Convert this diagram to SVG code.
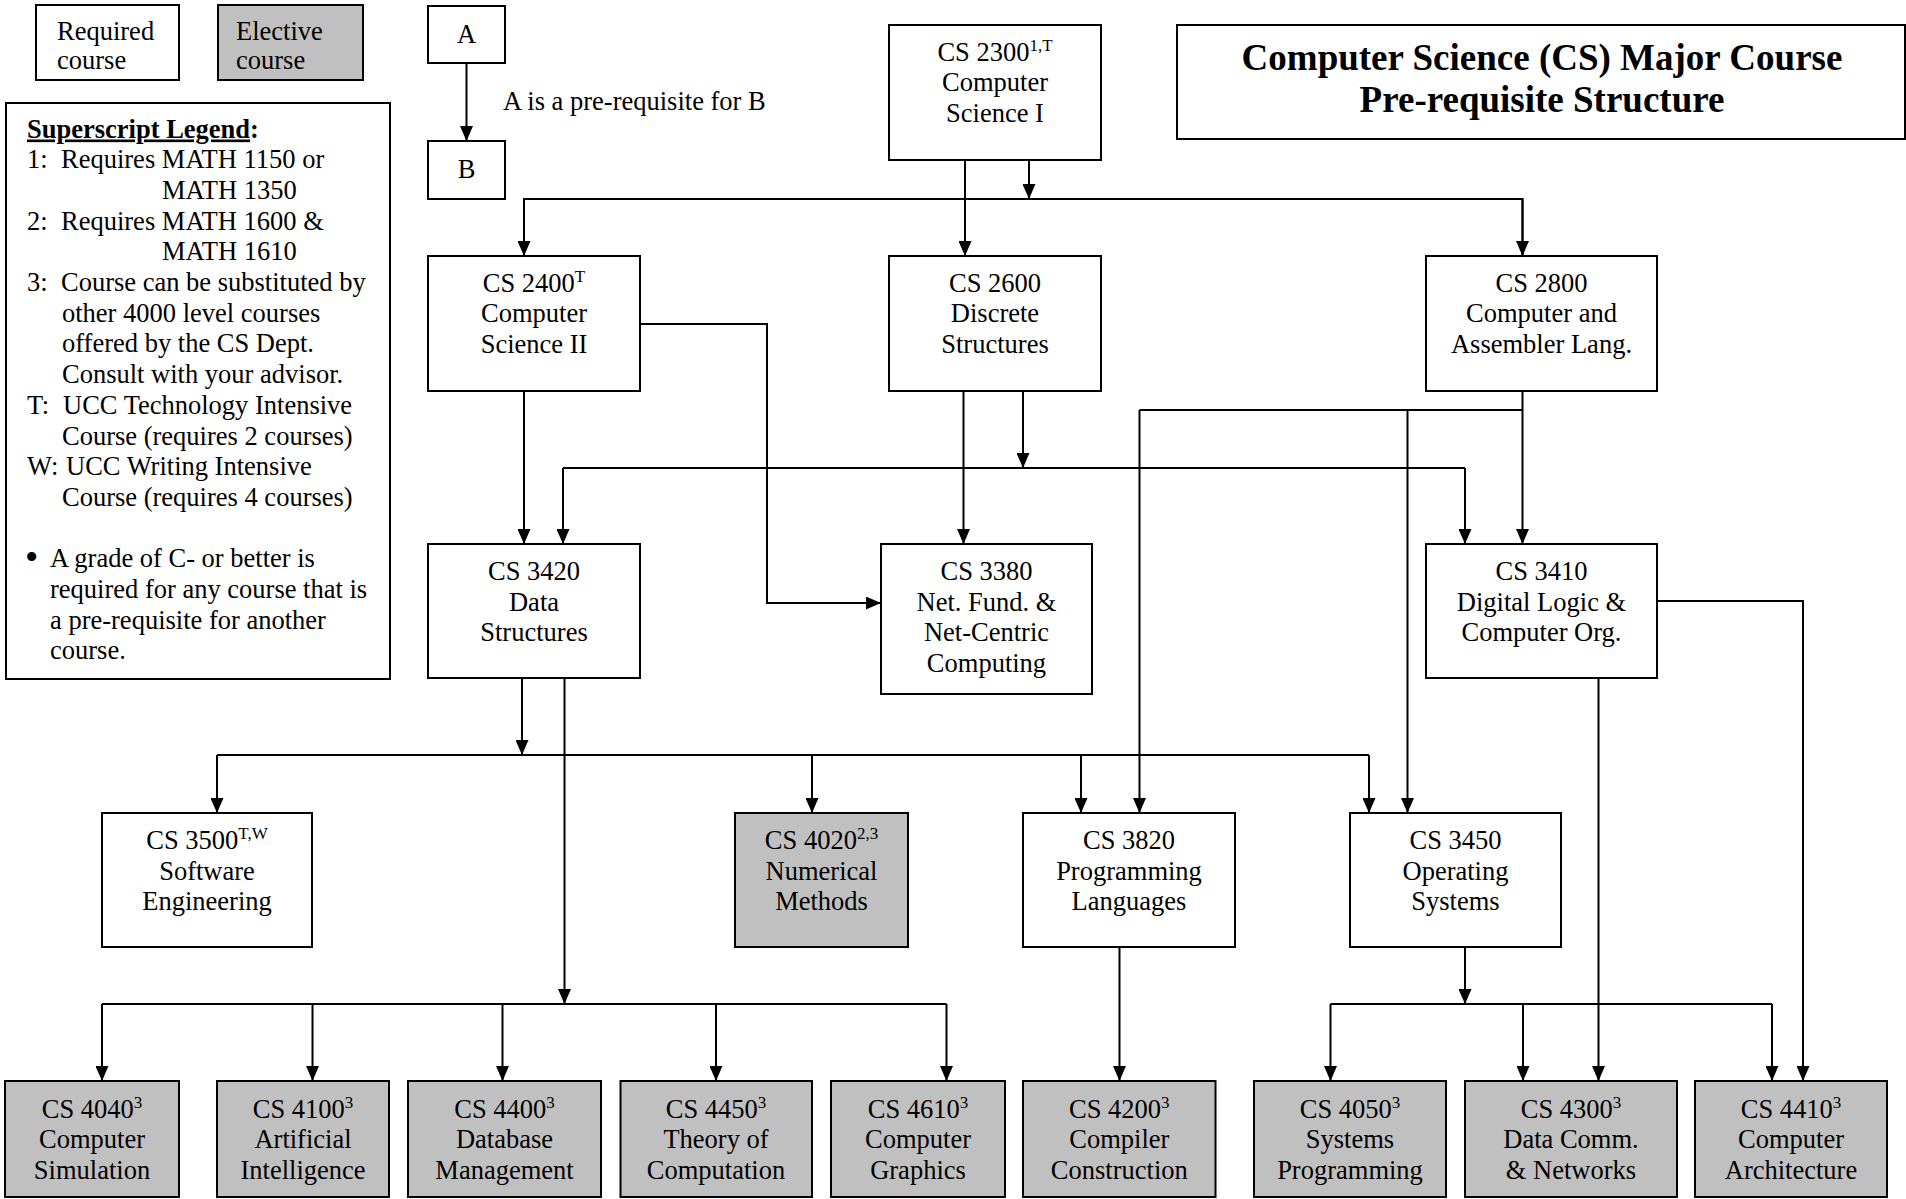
<svg xmlns="http://www.w3.org/2000/svg" width="1906" height="1199" viewBox="0 0 1906 1199">
<style>
.box{fill:#fff;stroke:#000;stroke-width:2}
.elec{fill:#c0c0c0;stroke:#000;stroke-width:2}
.t{font-family:"Liberation Serif","Times New Roman",serif;font-size:26.5px;fill:#000}
.c{text-anchor:middle}
.sup{font-size:17px}
.bul{font-size:38px}
.title{font-weight:bold;font-size:37px}
.ln{fill:none;stroke:#000;stroke-width:2}
.arr{marker-end:url(#ah)}
</style>
<defs>
<marker id="ah" markerUnits="userSpaceOnUse" viewBox="0 0 15 13" refX="15" refY="6.5" markerWidth="15" markerHeight="13" orient="auto">
<path d="M0,0 L15,6.5 L0,13 z" fill="#000"/>
</marker>
</defs>
<rect width="1906" height="1199" fill="#fff"/>

<g id="legend-required">
<rect class="box" x="36" y="5" width="143" height="75"/>
<text class="t" x="57" y="40">Required</text>
<text class="t" x="57" y="69">course</text>
</g>
<g id="legend-elective">
<rect class="elec" x="218" y="5" width="145" height="75"/>
<text class="t" x="236" y="40">Elective</text>
<text class="t" x="236" y="69">course</text>
</g>
<g id="legend-a">
<rect class="box" x="428" y="6" width="77" height="57"/>
<text class="t c" x="466.5" y="43">A</text>
</g>
<g id="legend-b">
<rect class="box" x="428" y="141" width="77" height="58"/>
<text class="t c" x="466.5" y="178">B</text>
</g>
<text class="t" x="503" y="110">A is a pre-requisite for B</text>

<g id="title">
<rect class="box" x="1177" y="25" width="728" height="114"/>
<text class="t c title" x="1542" y="70">Computer Science (CS) Major Course</text>
<text class="t c title" x="1542" y="112">Pre-requisite Structure</text>
</g>

<g id="superscript-legend">
<rect class="box" x="6" y="103" width="384" height="576"/>
<text class="t" x="27" y="137.5" font-weight="bold"><tspan text-decoration="underline">Superscript Legend</tspan>:</text>
<text class="t" x="27" y="168.2">1:<tspan x="61">Requires MATH 1150 or</tspan></text>
<text class="t" x="162" y="198.9">MATH 1350</text>
<text class="t" x="27" y="229.6">2:<tspan x="61">Requires MATH 1600 &amp;</tspan></text>
<text class="t" x="162" y="260.3">MATH 1610</text>
<text class="t" x="27" y="291">3:<tspan x="61">Course can be substituted by</tspan></text>
<text class="t" x="62" y="321.7">other 4000 level courses</text>
<text class="t" x="62" y="352.4">offered by the CS Dept.</text>
<text class="t" x="62" y="383.1">Consult with your advisor.</text>
<text class="t" x="27" y="413.8">T:<tspan x="63">UCC Technology Intensive</tspan></text>
<text class="t" x="62" y="444.5">Course (requires 2 courses)</text>
<text class="t" x="27" y="475.2">W:<tspan x="66">UCC Writing Intensive</tspan></text>
<text class="t" x="62" y="505.9">Course (requires 4 courses)</text>
<text class="t bul" x="25" y="570">•</text>
<text class="t" x="50" y="567.3">A grade of C- or better is</text>
<text class="t" x="50" y="598">required for any course that is</text>
<text class="t" x="50" y="628.7">a pre-requisite for another</text>
<text class="t" x="50" y="659.4">course.</text>
</g>

<g id="connectors">
<line class="ln arr" x1="466.5" y1="63" x2="466.5" y2="141"/>
<line class="ln arr" x1="965" y1="160" x2="965" y2="256"/>
<line class="ln arr" x1="1029" y1="160" x2="1029" y2="199"/>
<polyline class="ln" points="524,256 524,199 1522.5,199 1522.5,256"/>
<line class="ln arr" x1="524" y1="199" x2="524" y2="256"/>
<line class="ln arr" x1="1522.5" y1="199" x2="1522.5" y2="256"/>
<line class="ln arr" x1="524" y1="391" x2="524" y2="544"/>
<polyline class="ln arr" points="640,324 767,324 767,603 881,603"/>
<line class="ln arr" x1="963.5" y1="391" x2="963.5" y2="544"/>
<line class="ln arr" x1="1023" y1="391" x2="1023" y2="468"/>
<line class="ln" x1="563" y1="468" x2="1465" y2="468"/>
<line class="ln arr" x1="563" y1="468" x2="563" y2="544"/>
<line class="ln arr" x1="1465" y1="468" x2="1465" y2="544"/>
<line class="ln arr" x1="1522.5" y1="391" x2="1522.5" y2="544"/>
<line class="ln" x1="1139.5" y1="410" x2="1522.5" y2="410"/>
<line class="ln arr" x1="1139.5" y1="410" x2="1139.5" y2="813"/>
<line class="ln arr" x1="1407.5" y1="410" x2="1407.5" y2="813"/>
<line class="ln arr" x1="522" y1="678" x2="522" y2="755"/>
<line class="ln" x1="217" y1="755" x2="1369" y2="755"/>
<line class="ln arr" x1="217" y1="755" x2="217" y2="813"/>
<line class="ln arr" x1="812" y1="755" x2="812" y2="813"/>
<line class="ln arr" x1="1081" y1="755" x2="1081" y2="813"/>
<line class="ln arr" x1="1369" y1="755" x2="1369" y2="813"/>
<line class="ln arr" x1="564.5" y1="678" x2="564.5" y2="1004"/>
<line class="ln" x1="102" y1="1004" x2="946.5" y2="1004"/>
<line class="ln arr" x1="102" y1="1004" x2="102" y2="1081"/>
<line class="ln arr" x1="312.5" y1="1004" x2="312.5" y2="1081"/>
<line class="ln arr" x1="502.5" y1="1004" x2="502.5" y2="1081"/>
<line class="ln arr" x1="716" y1="1004" x2="716" y2="1081"/>
<line class="ln arr" x1="946.5" y1="1004" x2="946.5" y2="1081"/>
<line class="ln arr" x1="1119.5" y1="947" x2="1119.5" y2="1081"/>
<line class="ln arr" x1="1465" y1="947" x2="1465" y2="1004"/>
<line class="ln" x1="1330.5" y1="1004" x2="1772" y2="1004"/>
<line class="ln arr" x1="1330.5" y1="1004" x2="1330.5" y2="1081"/>
<line class="ln arr" x1="1523" y1="1004" x2="1523" y2="1081"/>
<line class="ln arr" x1="1772" y1="1004" x2="1772" y2="1081"/>
<line class="ln arr" x1="1598.5" y1="678" x2="1598.5" y2="1081"/>
<polyline class="ln arr" points="1657,601 1803,601 1803,1081"/>
</g>

<g id="cs2300">
<rect class="box" x="889" y="25" width="212" height="135"/>
<text class="t c" x="995" y="60.5">CS 2300<tspan class="sup" dy="-10">1,T</tspan></text>
<text class="t c" x="995" y="91">Computer</text>
<text class="t c" x="995" y="121.5">Science I</text>
</g>
<g id="cs2400">
<rect class="box" x="428" y="256" width="212" height="135"/>
<text class="t c" x="534" y="291.5">CS 2400<tspan class="sup" dy="-10">T</tspan></text>
<text class="t c" x="534" y="322">Computer</text>
<text class="t c" x="534" y="352.5">Science II</text>
</g>
<g id="cs2600">
<rect class="box" x="889" y="256" width="212" height="135"/>
<text class="t c" x="995" y="291.5">CS 2600</text>
<text class="t c" x="995" y="322">Discrete</text>
<text class="t c" x="995" y="352.5">Structures</text>
</g>
<g id="cs2800">
<rect class="box" x="1426" y="256" width="231" height="135"/>
<text class="t c" x="1541.5" y="291.5">CS 2800</text>
<text class="t c" x="1541.5" y="322">Computer and</text>
<text class="t c" x="1541.5" y="352.5">Assembler Lang.</text>
</g>
<g id="cs3420">
<rect class="box" x="428" y="544" width="212" height="134"/>
<text class="t c" x="534" y="580">CS 3420</text>
<text class="t c" x="534" y="610.5">Data</text>
<text class="t c" x="534" y="641">Structures</text>
</g>
<g id="cs3380">
<rect class="box" x="881" y="544" width="211" height="150"/>
<text class="t c" x="986.5" y="580">CS 3380</text>
<text class="t c" x="986.5" y="610.5">Net. Fund. &amp;</text>
<text class="t c" x="986.5" y="641">Net-Centric</text>
<text class="t c" x="986.5" y="671.5">Computing</text>
</g>
<g id="cs3410">
<rect class="box" x="1426" y="544" width="231" height="134"/>
<text class="t c" x="1541.5" y="580">CS 3410</text>
<text class="t c" x="1541.5" y="610.5">Digital Logic &amp;</text>
<text class="t c" x="1541.5" y="641">Computer Org.</text>
</g>
<g id="cs3500">
<rect class="box" x="102" y="813" width="210" height="134"/>
<text class="t c" x="207" y="849">CS 3500<tspan class="sup" dy="-10">T,W</tspan></text>
<text class="t c" x="207" y="879.5">Software</text>
<text class="t c" x="207" y="910">Engineering</text>
</g>
<g id="cs4020">
<rect class="elec" x="735" y="813" width="173" height="134"/>
<text class="t c" x="821.5" y="849">CS 4020<tspan class="sup" dy="-10">2,3</tspan></text>
<text class="t c" x="821.5" y="879.5">Numerical</text>
<text class="t c" x="821.5" y="910">Methods</text>
</g>
<g id="cs3820">
<rect class="box" x="1023" y="813" width="212" height="134"/>
<text class="t c" x="1129" y="849">CS 3820</text>
<text class="t c" x="1129" y="879.5">Programming</text>
<text class="t c" x="1129" y="910">Languages</text>
</g>
<g id="cs3450">
<rect class="box" x="1350" y="813" width="211" height="134"/>
<text class="t c" x="1455.5" y="849">CS 3450</text>
<text class="t c" x="1455.5" y="879.5">Operating</text>
<text class="t c" x="1455.5" y="910">Systems</text>
</g>
<g id="cs4040">
<rect class="elec" x="5" y="1081" width="174" height="116"/>
<text class="t c" x="92" y="1117.5">CS 4040<tspan class="sup" dy="-10">3</tspan></text>
<text class="t c" x="92" y="1148">Computer</text>
<text class="t c" x="92" y="1178.5">Simulation</text>
</g>
<g id="cs4100">
<rect class="elec" x="217" y="1081" width="172" height="116"/>
<text class="t c" x="303" y="1117.5">CS 4100<tspan class="sup" dy="-10">3</tspan></text>
<text class="t c" x="303" y="1148">Artificial</text>
<text class="t c" x="303" y="1178.5">Intelligence</text>
</g>
<g id="cs4400">
<rect class="elec" x="408" y="1081" width="193" height="116"/>
<text class="t c" x="504.5" y="1117.5">CS 4400<tspan class="sup" dy="-10">3</tspan></text>
<text class="t c" x="504.5" y="1148">Database</text>
<text class="t c" x="504.5" y="1178.5">Management</text>
</g>
<g id="cs4450">
<rect class="elec" x="620.5" y="1081" width="191.5" height="116"/>
<text class="t c" x="716" y="1117.5">CS 4450<tspan class="sup" dy="-10">3</tspan></text>
<text class="t c" x="716" y="1148">Theory of</text>
<text class="t c" x="716" y="1178.5">Computation</text>
</g>
<g id="cs4610">
<rect class="elec" x="831" y="1081" width="174" height="116"/>
<text class="t c" x="918" y="1117.5">CS 4610<tspan class="sup" dy="-10">3</tspan></text>
<text class="t c" x="918" y="1148">Computer</text>
<text class="t c" x="918" y="1178.5">Graphics</text>
</g>
<g id="cs4200">
<rect class="elec" x="1023" y="1081" width="192.5" height="116"/>
<text class="t c" x="1119.3" y="1117.5">CS 4200<tspan class="sup" dy="-10">3</tspan></text>
<text class="t c" x="1119.3" y="1148">Compiler</text>
<text class="t c" x="1119.3" y="1178.5">Construction</text>
</g>
<g id="cs4050">
<rect class="elec" x="1254" y="1081" width="192" height="116"/>
<text class="t c" x="1350" y="1117.5">CS 4050<tspan class="sup" dy="-10">3</tspan></text>
<text class="t c" x="1350" y="1148">Systems</text>
<text class="t c" x="1350" y="1178.5">Programming</text>
</g>
<g id="cs4300">
<rect class="elec" x="1465" y="1081" width="212" height="116"/>
<text class="t c" x="1571" y="1117.5">CS 4300<tspan class="sup" dy="-10">3</tspan></text>
<text class="t c" x="1571" y="1148">Data Comm.</text>
<text class="t c" x="1571" y="1178.5">&amp; Networks</text>
</g>
<g id="cs4410">
<rect class="elec" x="1695" y="1081" width="192" height="116"/>
<text class="t c" x="1791" y="1117.5">CS 4410<tspan class="sup" dy="-10">3</tspan></text>
<text class="t c" x="1791" y="1148">Computer</text>
<text class="t c" x="1791" y="1178.5">Architecture</text>
</g>
</svg>
